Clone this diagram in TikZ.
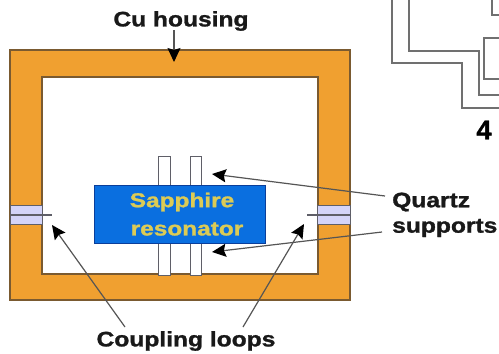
\documentclass[tikz,border=0pt]{standalone}
\usepackage{fontspec}
\setmainfont[BoldFeatures={FakeBold=1.2}]{Liberation Sans}
\usetikzlibrary{arrows.meta}
\definecolor{cuorange}{HTML}{F0A030}
\definecolor{cuedge}{HTML}{7A5A30}
\definecolor{sapph}{HTML}{0A6FE0}
\definecolor{sapphedge}{HTML}{0A3E9A}
\definecolor{goldtxt}{HTML}{DCCB55}
\definecolor{coaxfill}{HTML}{D4D4F8}
\definecolor{coaxedge}{HTML}{5F5F68}
\definecolor{linegray}{HTML}{707070}
\definecolor{leader}{HTML}{555555}
\tikzset{
 x=1pt,y=-1pt,
 lbl/.style={font=\bfseries\fontsize{21}{21}\selectfont,text=black!90,inner sep=0pt,xscale=1.17,transform shape},
 restxt/.style={font=\bfseries\fontsize{20}{20}\selectfont,text=goldtxt,inner sep=0pt,xscale=1.22,transform shape},
 callout/.style={draw=leader,line width=1.2pt,-{Stealth[length=14pt,width=13pt,inset=2pt,color=black]}},
 wire/.style={draw=linegray,line width=1.3pt},
 support/.style={draw=coaxedge,fill=white,line width=1.2pt,inner sep=0pt,anchor=north west},
 coax/.style={draw=coaxedge,fill=coaxfill,line width=1.2pt,inner sep=0pt,anchor=north west},
 pin/.style={draw=coaxedge,line width=1.6pt},
}
\begin{document}
\begin{tikzpicture}
\useasboundingbox (0,0) rectangle (499,354);
% housing
\draw[draw=cuedge,fill=cuorange,line width=1.2pt,even odd rule] (10,50) rectangle (350,300) (42,77) rectangle (318,274);
% supports
\node[support,minimum width=12pt,minimum height=119pt] (supA) at (158,156) {};
\node[support,minimum width=11pt,minimum height=119pt] (supB) at (190,156) {};
% resonator
\node[draw=sapphedge,fill=sapph,line width=1.2pt,minimum width=171pt,minimum height=58pt,inner sep=0pt,anchor=north west] (res) at (94,185) {};
\node[restxt] (sap) at (182,202) {Sapphire};
\node[restxt] (rsn) at (187,229) {resonator};
% coupling ports
\node[coax,minimum width=32pt,minimum height=19pt] (portL) at (10,205) {};
\node[coax,minimum width=33pt,minimum height=19pt] (portR) at (317,205) {};
\coordinate (loopL) at (52,214);
\coordinate (loopR) at (307,214);
\draw[pin] (portL.west) -- (portL.west -| loopL);
\draw[pin] (portR.east) -- (portR.east -| loopR);
% labels
\node[lbl] (cu) at (181,21) {Cu housing};
\node[lbl,anchor=west] (q1) at (392,202) {Quartz};
\node[lbl,anchor=west] (q2) at (392,228) {supports};
\node[lbl] (cl) at (186,341) {Coupling loops};
% arrows
\coordinate (cuS) at (174,30);
\coordinate (cuT) at (174,62);
\coordinate (q1s) at (385,196);
\coordinate (q2s) at (382,232);
\coordinate (qTa) at (212,174);
\coordinate (qBa) at (212,252);
\coordinate (clA) at (125,327);
\coordinate (clB) at (243,327);
\coordinate (lL) at (52,225);
\coordinate (lR) at (304,224);
\draw[callout] (cuS) -- (cuT);
\draw[callout] (q1s) -- (qTa);
\draw[callout] (q2s) -- (qBa);
\draw[callout] (clA) -- (lL);
\draw[callout] (clB) -- (lR);
% top right fragment
\draw[wire] (392,0) -- (392,63) -- (462,63) -- (462,108) -- (499,108);
\draw[wire] (409,0) -- (409,51) -- (479,51) -- (479,95) -- (499,95);
\draw[wire] (499,38) -- (484,38) -- (484,79) -- (499,79);
\draw[wire] (492,0) -- (492,15) -- (499,15);
\node[font=\bfseries\fontsize{27}{27}\selectfont,inner sep=0pt] (four) at (484,130) {4};
\end{tikzpicture}
\end{document}
